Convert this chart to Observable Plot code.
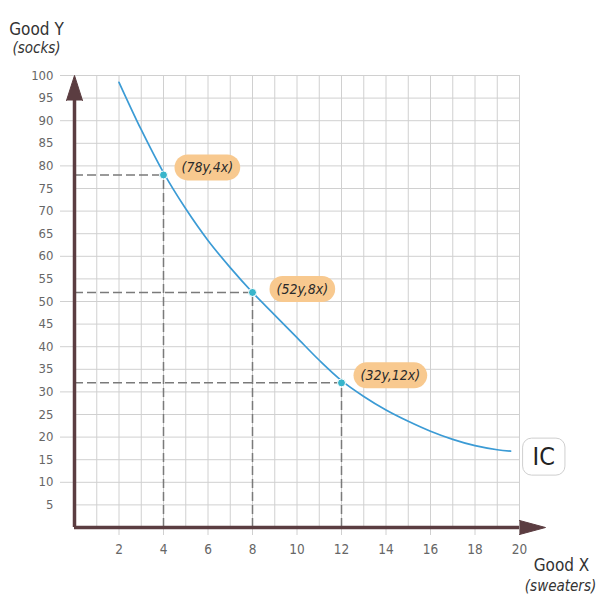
<!DOCTYPE html>
<html><head><meta charset="utf-8">
<script src="https://cdn.jsdelivr.net/npm/d3@7"></script>
<script src="https://cdn.jsdelivr.net/npm/@observablehq/plot@0.6"></script>
<style>
body{margin:0;background:#fff;}
#chart svg{display:block;font-family:"DejaVu Sans Condensed","Liberation Sans Narrow",sans-serif;}
</style></head><body><div id="chart"></div>
<script>
// ---- data ----
const curveX = [2, 3, 4, 5, 6, 7, 8, 9, 10, 11, 12, 13, 14, 15, 16, 17, 18, 19, 19.6];
const curveY = [98.5, 88, 78.5, 70.5, 63.5, 57.5, 52, 47, 42, 37, 32.5, 29, 26, 23.5, 21.3, 19.5, 18.1, 17.2, 16.9];
const pointX = [4, 8, 12];
const pointY = [78, 52, 32];
const pointLabels = ["(78y,4x)", "(52y,8x)", "(32y,12x)"];
const curveLabel = "IC";
const xTicks = [2, 4, 6, 8, 10, 12, 14, 16, 18, 20];
const yTicks = [5, 10, 15, 20, 25, 30, 35, 40, 45, 50, 55, 60, 65, 70, 75, 80, 85, 90, 95, 100];
const xGrid = [1, 2, 3, 4, 5, 6, 7, 8, 9, 10, 11, 12, 13, 14, 15, 16, 17, 18, 19, 20];
const xTitle = ["Good X", "(sweaters)"];
const yTitle = ["Good Y", "(socks)"];

// ---- tables built from arrays ----
const curve = curveX.map((x, i) => ({x, y: curveY[i]}));
const points = pointX.map((x, i) => ({x, y: pointY[i], label: pointLabels[i]}));
const curveEnd = [{...curve[curve.length - 1], label: curveLabel}];

const axisColor = "#5b3d41";
const gridColor = "#d0d0d0";
const labelDx = [18, 24, 19];
const labelDy = [-7, -3, -7];

const plot = Plot.plot({
  width: 600,
  height: 598,
  marginLeft: 74,
  marginRight: 81,
  marginTop: 75,
  marginBottom: 71,
  x: {domain: [0, 20]},
  y: {domain: [0, 100]},
  marks: [
    Plot.gridX(xGrid, {stroke: gridColor, strokeOpacity: 1, strokeWidth: 1}),
    Plot.gridY(yTicks, {stroke: gridColor, strokeOpacity: 1, strokeWidth: 1}),
    Plot.axisY(yTicks.filter(v => v % 10 === 0), {tickSize: 14, tickFormat: () => "", stroke: gridColor, label: null}),
    Plot.axisY(yTicks, {tickSize: 0, tickPadding: 21, fill: "#666", fontSize: 13, label: null}),
    Plot.axisX(xTicks, {tickSize: 8, tickPadding: 9, stroke: gridColor, fill: "#666", fontSize: 13.5, label: null}),
    // dashed guides
    Plot.ruleY(points, {y: "y", x1: 0, x2: "x", stroke: "#7a7a7a", strokeWidth: 1.5, strokeDasharray: "9,4"}),
    Plot.ruleX(points, {x: "x", y1: 0, y2: "y", stroke: "#7a7a7a", strokeWidth: 1.5, strokeDasharray: "9,4"}),
    // axes with arrows
    Plot.ruleX([0], {stroke: axisColor, strokeWidth: 3.5, insetTop: 12}),
    Plot.ruleY([0], {stroke: axisColor, strokeWidth: 3.5}),
    Plot.vector([100], {x: 0, y: d => d, rotate: 0, length: 25, r: 8, shape: "spike", anchor: "end", fill: axisColor, stroke: axisColor, strokeWidth: 1}),
    Plot.vector([20], {x: d => d, y: 0, rotate: 90, length: 26, r: 7, shape: "spike", anchor: "start", fill: axisColor, stroke: axisColor, strokeWidth: 1}),
    // curve
    Plot.line(curve, {x: "x", y: "y", curve: "catmull-rom", stroke: "#3b9bd5", strokeWidth: 1.7,
      style: {filter: "drop-shadow(1px 2px 1.5px rgba(0,0,0,0.25))"}}),
    Plot.dot(points, {x: "x", y: "y", r: 4, fill: "#38b5cb", stroke: "#fff", strokeWidth: 1,
      style: {filter: "drop-shadow(1px 2px 2px rgba(0,0,0,0.45))"}}),
    ...points.map((p, i) => Plot.text([p], {x: "x", y: "y", text: "label", textAnchor: "start", dx: labelDx[i], dy: labelDy[i],
      fontSize: 14, fontStyle: "italic", fill: "#2a2a2a"})),
    Plot.text(curveEnd, {x: "x", y: "y", text: "label", textAnchor: "start", dx: 22, dy: 6, fontSize: 25, fill: "#222"}),
    // axis titles
    Plot.text([yTitle[0]], {frameAnchor: "top-left", dx: -38, dy: -53, textAnchor: "middle", fontSize: 17, fill: "#333"}),
    Plot.text([yTitle[1]], {frameAnchor: "top-left", dx: -38, dy: -33, textAnchor: "middle", fontSize: 15, fontStyle: "italic", fill: "#333"}),
    Plot.text([xTitle[0]], {frameAnchor: "bottom-right", dx: 42, dy: 43, textAnchor: "middle", fontSize: 17, fill: "#333"}),
    Plot.text([xTitle[1]], {frameAnchor: "bottom-right", dx: 41, dy: 63, textAnchor: "middle", fontSize: 15, fontStyle: "italic", fill: "#333"})
  ]
});
document.getElementById("chart").appendChild(plot);

// background shapes behind annotation texts
const NS = "http://www.w3.org/2000/svg";
plot.querySelectorAll("text").forEach(t => {
  const s = t.textContent;
  let opts = null;
  if (pointLabels.includes(s)) opts = {px: 7, py: 5, fill: "#f8c98f", stroke: "none", rx: null};
  else if (s === curveLabel) opts = {px: 10, py: 4, fill: "#fff", stroke: "#cfcfcf", rx: 9};
  if (!opts) return;
  const b = t.getBBox();
  const r = document.createElementNS(NS, "rect");
  const h = b.height + 2 * opts.py;
  r.setAttribute("x", b.x - opts.px);
  r.setAttribute("y", b.y - opts.py);
  r.setAttribute("width", b.width + 2 * opts.px);
  r.setAttribute("height", h);
  r.setAttribute("rx", opts.rx == null ? h / 2 : opts.rx);
  r.setAttribute("fill", opts.fill);
  r.setAttribute("stroke", opts.stroke);
  if (t.getAttribute("transform")) r.setAttribute("transform", t.getAttribute("transform"));
  t.parentNode.insertBefore(r, t);
});
</script>
</body></html>
